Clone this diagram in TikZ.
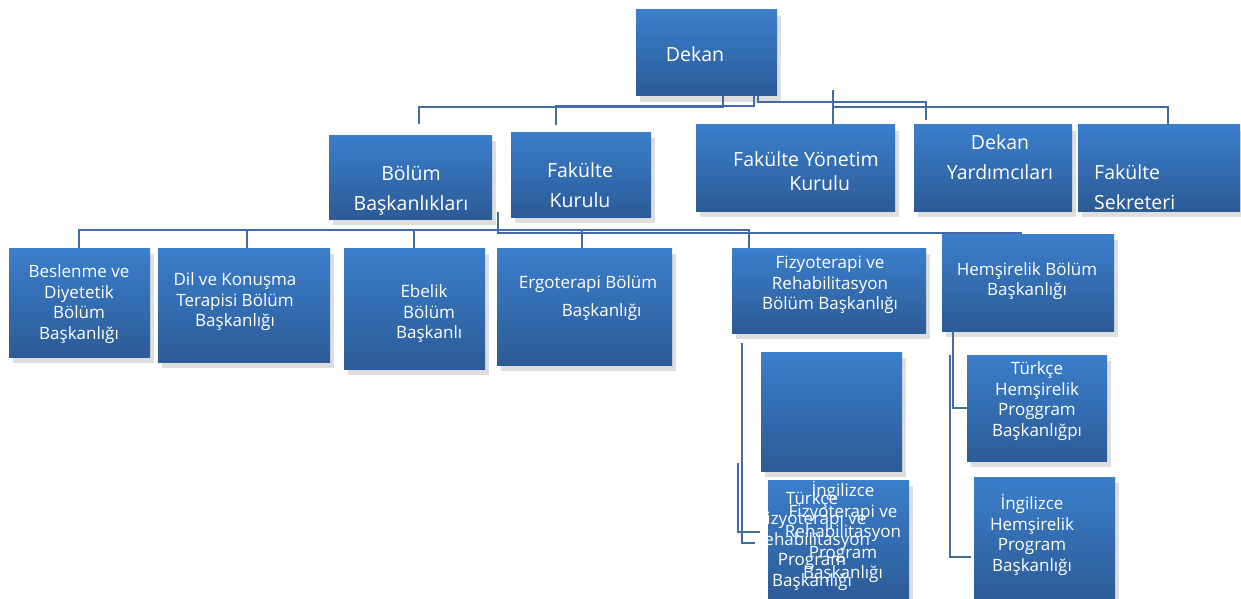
\documentclass[tikz,border=0pt]{standalone}
\usepackage{fontspec}
\setmainfont{Open Sans}
\usetikzlibrary{shadows}
\definecolor{boxtop}{RGB}{59,126,203}
\definecolor{boxbot}{RGB}{44,91,150}
\definecolor{linec}{RGB}{66,108,163}
\newcommand\fTop{\fontsize{19.5}{30}\selectfont}
\newcommand\fRow{\fontsize{17}{20.5}\selectfont}
\tikzset{
  orgbox/.style={draw=none, inner sep=0pt, top color=boxtop, bottom color=boxbot,
    drop shadow={shadow xshift=4pt, shadow yshift=-6pt, fill=black, opacity=0.13}},
  txt/.style={text=white, align=center, inner sep=0pt},
  conn/.style={draw=linec, line width=1.6pt}
}
\newcommand\obox[5]{\node[orgbox, minimum width={(#4-#2)*1pt}, minimum height={(#5-#3)*1pt}] (#1) at ({(#2+#4)/2},{(#3+#5)/2}) {};}
\begin{document}
\begin{tikzpicture}[x=1pt,y=-1pt]
\useasboundingbox (0,0) rectangle (1241,599);
% ---- boxes ----
\obox{dekan}{636}{10}{777}{96}
\obox{bolum}{329}{135}{492}{219}
\obox{fkurul}{511}{132}{651}{217}
\obox{fyk}{696}{125}{895}{211}
\obox{dy}{914}{125}{1072}{211}
\obox{fs}{1078}{125}{1240}{211}
\obox{bes}{9}{248}{150}{357}
\obox{dil}{158}{248}{330}{362}
\obox{ebe}{344}{248}{485}{369}
\obox{erg}{497}{248}{672}{365}
\obox{fiz}{732}{248}{926}{333}
\obox{hem}{942}{234}{1114}{331}
\obox{empty}{761}{352}{902}{471}
\obox{fizprog}{768}{480}{909}{602}
\obox{themp}{967}{355}{1107}{461}
\obox{ihemp}{974}{477}{1115}{602}
% ---- texts ----
\node[txt, font=\fTop] (dekan-t) at (695,54) {Dekan};
\node[txt, font=\fTop] (bolum-t) at (411,190) {Bölüm\\Başkanlıkları};
\node[txt, font=\fTop] (fkurul-t) at (580,185) {Fakülte\\Kurulu};
\node[txt, font=\fontsize{19.5}{24}\selectfont] (fyk-t) at (806,171) {Fakülte Yönetim\\\hspace*{1.4em}Kurulu};
\node[txt, font=\fTop] (dy-t) at (1000,157) {Dekan\\Yardımcıları};
\node[txt, font=\fTop, align=left, anchor=west] (fs-t) at (1094,187) {Fakülte\\Sekreteri};
\node[txt, font=\fRow] (bes-t) at (79,304) {Beslenme ve\\Diyetetik\\Bölüm\\Başkanlığı};
\node[txt, font=\fRow] (dil-t) at (235,302) {Dil ve Konuşma\\Terapisi Bölüm\\Başkanlığı};
\node[txt, font=\fRow] (ebe-t) at (424,314) {Ebelik\\\hspace*{0.6em}Bölüm\\\hspace*{0.6em}Başkanlı};
\node[txt, font=\fontsize{17}{28}\selectfont] (erg-t) at (588,298) {Ergoterapi Bölüm\\\hspace*{1.6em}Başkanlığı};
\node[txt, font=\fRow] (fiz-t) at (830,285) {Fizyoterapi ve\\Rehabilitasyon\\Bölüm Başkanlığı};
\node[txt, font=\fontsize{17}{19.5}\selectfont] (hem-t) at (1027,281) {Hemşirelik Bölüm\\Başkanlığı};
\node[txt, font=\fRow] (themp-t) at (1037,401) {Türkçe\\Hemşirelik\\Proggram\\Başkanlığpı};
\node[txt, font=\fRow] (ihemp-t) at (1032,535) {İngilizce\\Hemşirelik\\Program\\Başkanlığı};
\node[txt, font=\fRow] (tfiz-t) at (812,541) {Türkçe\\Fizyoterapi ve\\Rehabilitasyon\\Program\\Başkanlığı};
\node[txt, font=\fRow] (ifiz-t) at (843,532) {İngilizce\\Fizyoterapi ve\\Rehabilitasyon\\Program\\Başkanlığı};
% ---- connectors ----
\draw[conn] (723,0 |- dekan.south) -- (723,107) -- (419,107) -- (419,124);
\draw[conn] (754,0 |- dekan.south) -- (754,106) -- (556,106) -- (556,125);
\draw[conn] (758,0 |- dekan.south) -- (758,102) -- (926,102) -- (926,120);
\draw[conn] (833,90) -- (833,0 |- fyk.north);
\draw[conn] (833,107) -- (1168,107) -- (1168,0 |- fs.north);
% row 2
\coordinate (r0) at (498,212);
\draw[conn] (r0) -- (498,233) -- (1021,233) -- (1021,0 |- hem.north);
\draw[conn] (79,0 |- bes.north) -- (79,230) -- (749,230) -- (749,0 |- fiz.north);
\draw[conn] (247,230) -- (247,0 |- dil.north);
\draw[conn] (414,230) -- (414,0 |- ebe.north);
\draw[conn] (582,230) -- (582,0 |- erg.north);
% fizyoterapi sub
\coordinate (f1) at (742,343);
\coordinate (f1e) at (755,543);
\coordinate (f2) at (738,463);
\coordinate (f2e) at (760,532);
\draw[conn] (f1) |- (f1e);
\draw[conn] (f2) |- (f2e);
% hemsirelik sub
\coordinate (h2) at (950,355);
\coordinate (h2e) at (971,557);
\draw[conn] (953,0 |- hem.south) |- (themp.west);
\draw[conn] (h2) |- (h2e);
\end{tikzpicture}
\end{document}
